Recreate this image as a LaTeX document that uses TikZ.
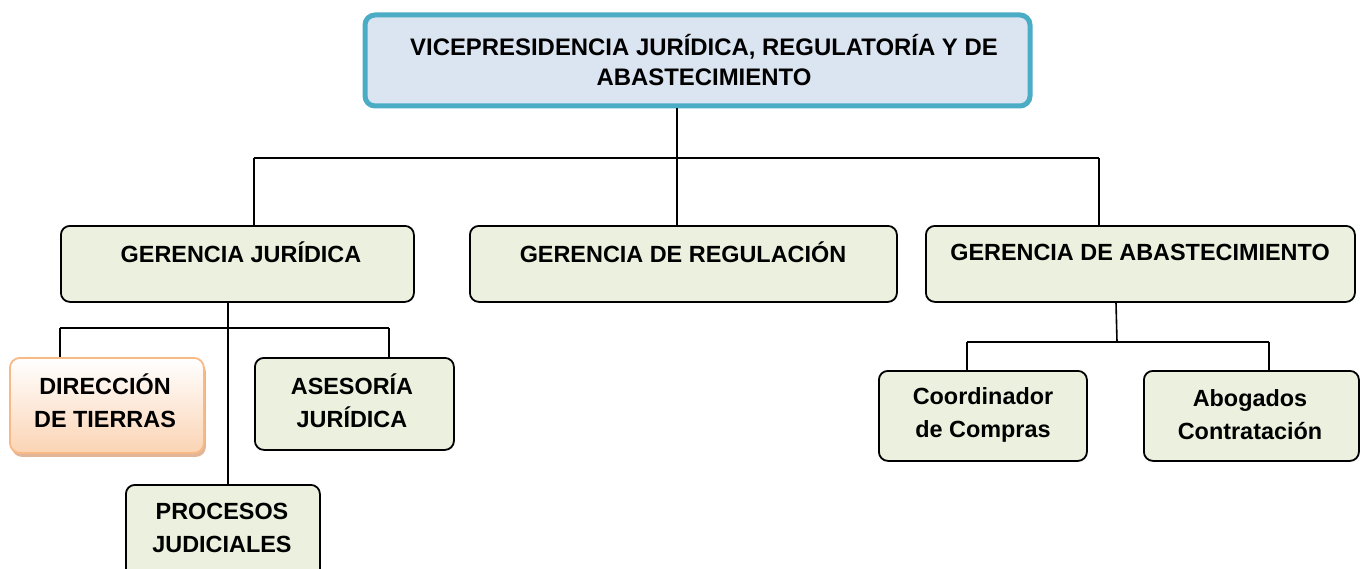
\documentclass[tikz,border=0pt]{standalone}
\usepackage{fontspec}
\setmainfont{Liberation Sans}
\usetikzlibrary{shadows}
\definecolor{vpfill}{HTML}{DBE5F1}
\definecolor{vpline}{HTML}{4BACC6}
\definecolor{gfill}{HTML}{EBF1DE}
\definecolor{ofill}{HTML}{FBD4B4}
\definecolor{oline}{HTML}{F8B985}
\definecolor{oshadow}{HTML}{D9A47E}
\begin{document}
\begin{tikzpicture}[x=1bp,y=-1bp,
  every node/.style={font=\fontsize{23.5}{33}\selectfont\bfseries, align=center},
  gbox/.style={draw=black, line width=1.8bp, fill=gfill, rounded corners=9bp, anchor=north west, inner sep=0pt},
  txt/.style={inner sep=0pt, anchor=center},
  conn/.style={draw=black, line width=1.6bp}]
\useasboundingbox (0,0) rectangle (1363,569);
% top box
\node[draw=vpline, line width=5bp, fill=vpfill, rounded corners=10bp, anchor=north west, minimum width=665bp, minimum height=91bp, inner sep=0pt] (vp) at (362.5,12.5) {};
\node[txt, font=\fontsize{24}{30}\selectfont\bfseries] (vpt) at (704,60) {VICEPRESIDENCIA JURÍDICA, REGULATORÍA Y DE\\ABASTECIMIENTO};
% gerencias
\node[gbox, minimum width=353bp, minimum height=76bp] (gj) at (60,225) {};
\node[gbox, minimum width=427bp, minimum height=76bp] (gr) at (469,225) {};
\node[gbox, minimum width=429bp, minimum height=76bp] (ga) at (925,225) {};
\node[txt] (gjt) at (241,252) {GERENCIA JURÍDICA};
\node[txt] (grt) at (683,252) {GERENCIA DE REGULACIÓN};
\node[txt] (gat) at (1140,252) {GERENCIA DE ABASTECIMIENTO};
% sub boxes
\node[draw=oline, line width=1.8bp, top color=white, bottom color=ofill, rounded corners=10bp, anchor=north west, minimum width=194bp, minimum height=95bp, inner sep=0pt,
  drop shadow={shadow xshift=2bp, shadow yshift=-4bp, fill=oshadow, opacity=0.8}] (dt) at (9,357) {};
\node[txt] (dtt) at (105,401) {DIRECCIÓN\\DE TIERRAS};
\node[gbox, minimum width=199bp, minimum height=92bp] (aj) at (254,357) {};
\node[txt] (ajt) at (352,401) {ASESORÍA\\JURÍDICA};
\node[gbox, minimum width=194bp, minimum height=95bp] (pj) at (125,484) {};
\node[txt] (pjt) at (222,528) {PROCESOS\\JUDICIALES};
\node[gbox, minimum width=208bp, minimum height=90bp] (cc) at (878,370) {};
\node[txt] (cct) at (983,415) {Coordinador\\de Compras};
\node[gbox, minimum width=215bp, minimum height=90bp] (ab) at (1143,370) {};
\node[txt] (abt) at (1250,415) {Abogados\\Contratación};
% connectors
\coordinate (h1) at (677,158);
\draw[conn] (vp.south -| h1) -- (h1);
\draw[conn] (254,158) -- (1099,158);
\draw[conn] (h1) -- (gr.north -| h1);
\draw[conn] (254,158) -- (gj.north -| 254,0);
\draw[conn] (1099,158) -- (ga.north -| 1099,0);
\coordinate (j1) at (228,328);
\draw[conn] (gj.south -| j1) -- (pj.north -| j1);
\draw[conn] (60,328) -- (389,328);
\draw[conn] (60,328) -- (dt.north -| 60,0);
\draw[conn] (389,328) -- (aj.north -| 389,0);
\coordinate (a1) at (1117,342);
\draw[conn] (ga.south -| 1116,0) -- (a1);
\draw[conn] (967,342) -- (1269,342);
\draw[conn] (967,342) -- (cc.north -| 967,0);
\draw[conn] (1269,342) -- (ab.north -| 1269,0);
\end{tikzpicture}
\end{document}
